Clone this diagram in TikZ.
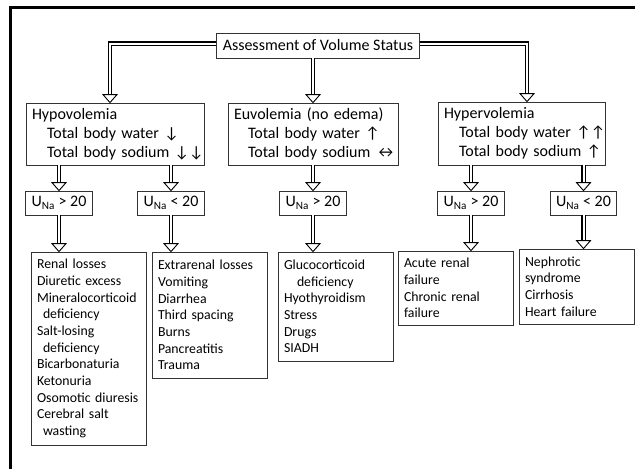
\documentclass[tikz,border=0pt]{standalone}
\usepackage{fontspec}
\setmainfont{Carlito}
\usetikzlibrary{calc}
\newcommand\dtip[1]{\draw[tipst] #1 -- ++(-7,-8) -- ++(14,0) -- cycle;}
\newcommand\oneline[1]{\mbox{#1}}
\begin{document}
\begin{tikzpicture}[x=1pt,y=-1pt,
  box/.style={draw=black!80, line width=0.8pt, inner xsep=6pt, inner ysep=0pt, align=left, anchor=center},
  hd/.style={box, font=\fontsize{16}{19}\selectfont},
  lst/.style={box, font=\fontsize{13.8}{16.7}\selectfont},
  una/.style={box, align=center, font=\fontsize{16}{19}\selectfont, minimum width=66pt, minimum height=24pt},
  dbl/.style={draw=black, line width=1.3pt, double=white, double distance=2pt, line join=miter, shorten >=3pt},
  tipst/.style={draw=black, line width=0.9pt, fill=white, line join=miter}]
\useasboundingbox (0,0) rectangle (635,469);
\fill[white] (0,0) rectangle (635,469);
\draw[line width=3pt] (10.5,469) -- (10.5,7.5) -- (635,7.5);

\node[box, align=center, font=\fontsize{16}{19}\selectfont, minimum width=202pt, minimum height=25pt] (title) at (318,45.5) {Assessment of Volume Status};

\node[hd, text width=166pt, minimum height=62pt] (hypo) at (115,134) {\oneline{Hypovolemia}\\\oneline{\hspace*{15pt}Total body water ↓}\\\oneline{\hspace*{15pt}Total body sodium ↓↓}};
\node[hd, text width=158pt, minimum height=62pt] (euvo) at (313,134) {\oneline{Euvolemia (no edema)}\\\oneline{\hspace*{14pt}Total body water ↑}\\\oneline{\hspace*{14pt}Total body sodium ↔}};
\node[hd, text width=155pt, minimum height=63pt] (hyper) at (521.5,133.5) {\oneline{Hypervolemia}\\\oneline{\hspace*{15pt}Total body water ↑↑}\\\oneline{\hspace*{15pt}Total body sodium ↑}};

\node[una] (u1) at (59,203) {U\textsubscript{Na} > 20};
\node[una] (u2) at (171,203) {U\textsubscript{Na} < 20};
\node[una] (u3) at (313,203) {U\textsubscript{Na} > 20};
\node[una] (u4) at (471,203) {U\textsubscript{Na} > 20};
\node[una] (u5) at (583.5,203) {U\textsubscript{Na} < 20};

\node[lst, text width=103pt, minimum height=193pt] (b1) at (88.5,348.5) {\oneline{Renal losses}\\\oneline{Diuretic excess}\\\oneline{Mineralocorticoid}\\\oneline{\hspace*{6pt}deficiency}\\\oneline{Salt-losing}\\\oneline{\hspace*{6pt}deficiency}\\\oneline{Bicarbonaturia}\\\oneline{Ketonuria}\\\oneline{Osomotic diuresis}\\\oneline{Cerebral salt}\\\oneline{\hspace*{6pt}wasting}};
\node[lst, text width=103pt, minimum height=126pt] (b2) at (209.5,315) {\oneline{Extrarenal losses}\\Vomiting\\Diarrhea\\\oneline{Third spacing}\\Burns\\Pancreatitis\\Trauma};
\node[lst, text width=103pt, minimum height=109pt] (b3) at (335.5,306.5) {Glucocorticoid\\\oneline{\hspace*{13pt}deficiency}\\Hyothyroidism\\Stress\\Drugs\\SIADH};
\node[lst, text width=103pt, minimum height=74pt] (b4) at (455.5,288) {\oneline{Acute renal}\\failure\\\oneline{Chronic renal}\\failure};
\node[lst, text width=103pt, minimum height=75pt] (b5) at (576.5,286.5) {Nephrotic\\syndrome\\Cirrhosis\\\oneline{Heart failure}};

% top connectors
\coordinate (hl) at ($(hypo.north)+(-5,0)$);
\coordinate (hr) at ($(hyper.north)+(5.5,0)$);
\draw[dbl] ($(title.west)+(0,-2)$) -| (hl); \dtip{(hl)}
\draw[dbl] ($(title.east)+(0,-2)$) -| (hr); \dtip{(hr)}
\draw[dbl] (euvo.north |- title.south) -- (euvo.north); \dtip{(euvo.north)}

% second level
\draw[dbl] (u1.north |- hypo.south) -- (u1.north); \dtip{(u1.north)}
\draw[dbl] (u2.north |- hypo.south) -- (u2.north); \dtip{(u2.north)}
\draw[dbl] (u3.north |- euvo.south) -- (u3.north); \dtip{(u3.north)}
\draw[dbl] (u4.north |- hyper.south) -- (u4.north); \dtip{(u4.north)}
\draw[dbl] (u5.north |- hyper.south) -- (u5.north); \dtip{(u5.north)}

% third level
\draw[dbl] (u1.south) -- (u1.south |- b1.north); \dtip{(u1.south |- b1.north)}
\draw[dbl] (u2.south) -- (u2.south |- b2.north); \dtip{(u2.south |- b2.north)}
\draw[dbl] (u3.south) -- (u3.south |- b3.north); \dtip{(u3.south |- b3.north)}
\draw[dbl] (u4.south) -- (u4.south |- b4.north); \dtip{(u4.south |- b4.north)}
\draw[dbl] (u5.south) -- (u5.south |- b5.north); \dtip{(u5.south |- b5.north)}
\end{tikzpicture}
\end{document}
